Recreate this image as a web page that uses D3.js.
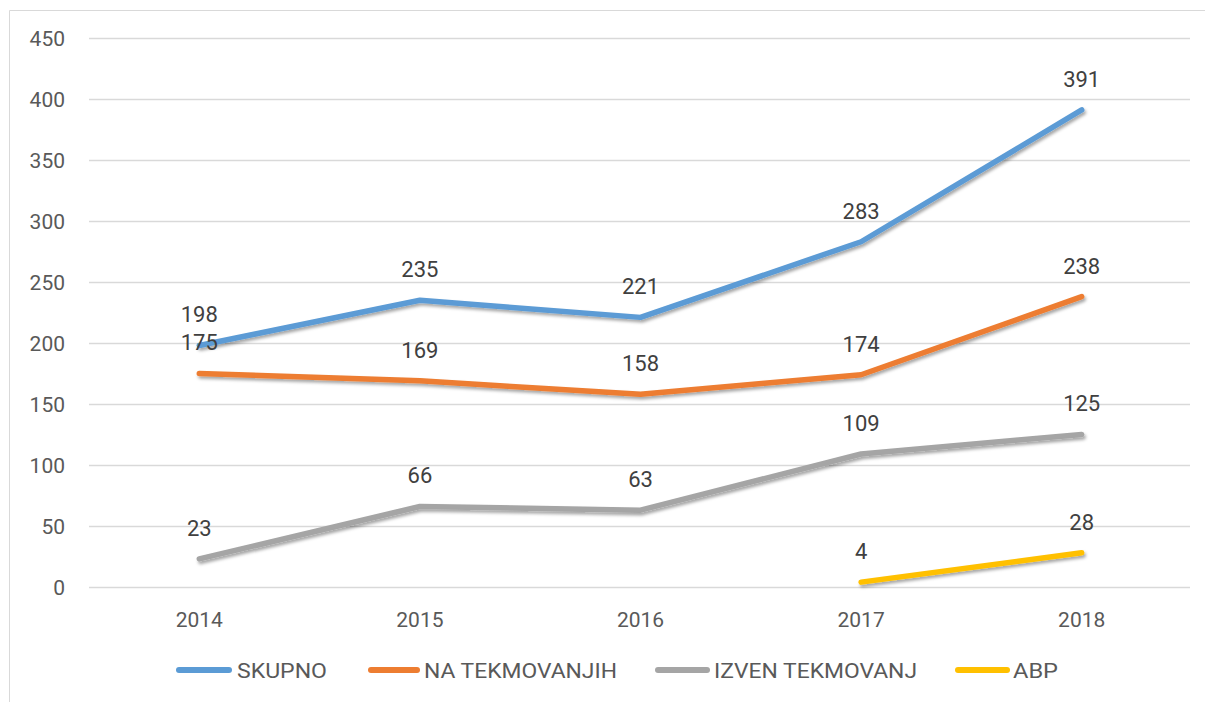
<!DOCTYPE html>
<html><head><meta charset="utf-8">
<script src="https://cdn.jsdelivr.net/npm/d3@7"></script>
<style>body{margin:0;background:#fff;} svg{display:block;}</style>
</head><body>
<svg id="c" width="1205" height="702"></svg>
<script>
const categories = ["2014","2015","2016","2017","2018"];
const skupno = [198,235,221,283,391];
const naTekmovanjih = [175,169,158,174,238];
const izvenTekmovanj = [23,66,63,109,125];
const abp = [null,null,null,4,28];
const yTicks = [0,50,100,150,200,250,300,350,400,450];
const seriesNames = ["SKUPNO","NA TEKMOVANJIH","IZVEN TEKMOVANJ","ABP"];
const seriesColors = ["#5B9BD5","#ED7D31","#A5A5A5","#FFC000"];
const seriesData = [skupno,naTekmovanjih,izvenTekmovanj,abp];

const svg = d3.select("#c");
const font = "Roboto, 'DejaVu Sans', sans-serif";
const defs = svg.append("defs");
const f = defs.append("filter").attr("id","sh").attr("x","-10%").attr("y","-50%").attr("width","120%").attr("height","200%");
f.append("feDropShadow").attr("dx",1.5).attr("dy",2.5).attr("stdDeviation",1.8).attr("flood-color","#000").attr("flood-opacity",0.35);

// border
svg.append("path").attr("d","M9.5,702 V10.5 H1205").attr("fill","none").attr("stroke","#d9d9d9").attr("stroke-width",1);

const x = d3.scaleBand().domain(categories).range([89,1192]);
const y = d3.scaleLinear().domain([0,450]).range([587,38]);

// grid
svg.append("g").selectAll("line").data(yTicks).join("line")
  .attr("x1",89).attr("x2",1190).attr("y1",d=>Math.round(y(d))+0.5).attr("y2",d=>Math.round(y(d))+0.5)
  .attr("stroke","#d9d9d9").attr("stroke-width",1.3);

// y labels
svg.append("g").selectAll("text").data(yTicks).join("text")
  .attr("x",65).attr("y",d=>y(d)).attr("dy","0.36em").attr("text-anchor","end")
  .attr("font-family",font).attr("font-size",21).attr("fill","#595959").text(d=>d);

// x labels
svg.append("g").selectAll("text").data(categories).join("text")
  .attr("x",d=>x(d)+x.bandwidth()/2).attr("y",619).attr("dy","0.36em").attr("text-anchor","middle")
  .attr("font-family",font).attr("font-size",21).attr("fill","#595959").text(d=>d);

const line = d3.line().defined(d=>d!=null)
  .x((d,i)=>x(categories[i])+x.bandwidth()/2).y(d=>y(d));

seriesData.forEach((s,k)=>{
  svg.append("path").attr("d",line(s)).attr("fill","none").attr("stroke",seriesColors[k])
    .attr("stroke-width",5.5).attr("stroke-linecap","round").attr("stroke-linejoin","round")
    .attr("filter","url(#sh)");
});
seriesData.forEach((s,k)=>{
  svg.append("g").selectAll("text").data(s.map((v,i)=>({v,i})).filter(d=>d.v!=null)).join("text")
    .attr("x",d=>x(categories[d.i])+x.bandwidth()/2).attr("y",d=>y(d.v)-31).attr("dy","0.36em")
    .attr("text-anchor","middle").attr("font-family",font).attr("font-size",22).attr("fill","#404040")
    .text(d=>d.v);
});

// legend
const legLine = [[176,232],[368,420],[655,710],[955,1010]];
const legText = [237,424,714,1013];
const legW = [90,193,203,45];
const lg = svg.append("g");
seriesNames.forEach((n,k)=>{
  lg.append("line").attr("x1",legLine[k][0]+3).attr("x2",legLine[k][1]-3).attr("y1",670).attr("y2",670)
    .attr("stroke",seriesColors[k]).attr("stroke-width",6).attr("stroke-linecap","round");
  lg.append("text").attr("x",legText[k]).attr("y",670).attr("dy","0.36em")
    .attr("font-family",font).attr("font-size",21).attr("fill","#595959")
    .attr("textLength",legW[k]).attr("lengthAdjust","spacingAndGlyphs").text(n);
});
</script>
</body></html>
